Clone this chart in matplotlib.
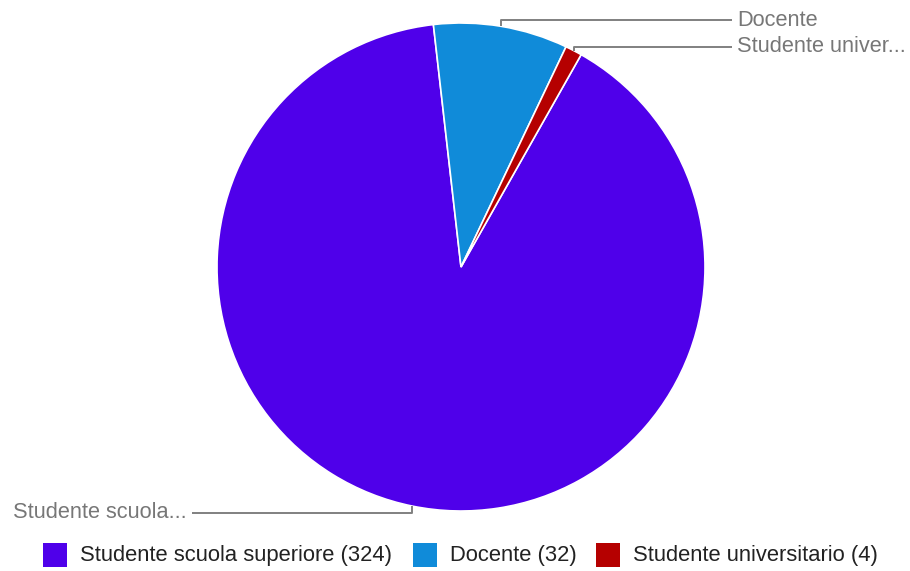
import numpy as np
import matplotlib
matplotlib.use("Agg")
import matplotlib.pyplot as plt
from matplotlib.patches import Rectangle

categories = ["Studente scuola superiore", "Docente", "Studente universitario"]
values = [324, 32, 4]
colors = ["#4f00ea", "#108bd9", "#b50000"]

W, H = 910, 571
fig = plt.figure(figsize=(W / 100, H / 100), dpi=100)
ax = fig.add_axes([0, 0, 1, 1])

cx, cy, R = 461, 267, 244
start_cw = 29.5  # clockwise degrees from 12 o'clock where first slice begins
wedges, _ = ax.pie(values, colors=colors, startangle=90 - start_cw, counterclock=False,
                   center=(cx, H - cy), radius=R,
                   wedgeprops=dict(edgecolor="white", linewidth=1.2))
ax.set_xlim(0, W)
ax.set_ylim(0, H)
ax.set_aspect("auto")
ax.axis("off")

def short(s, n=15):
    return s if len(s) <= n else s[:n] + "..."

# leader lines with labels
label_font = dict(family="Liberation Sans", fontsize=15.7, color="#777777")
line_kw = dict(color="#808080", lw=1.4, solid_capstyle="butt")
# label placements (pixel layout): (label_y, line_end_x, text_x, side)
placements = [(513, 192, 187, "left"), (20, 732, 737, "right"), (46.5, 732, 737, "right")]
total = sum(values)
acc = 0
for i, v in enumerate(values):
    mid = start_cw + (acc + v / 2) / total * 360
    acc += v
    a = np.deg2rad(mid)
    px, py = cx + R * np.sin(a), cy - R * np.cos(a)
    ly, ex, tx, side = placements[i]
    ax.plot([px, px, ex], [H - py, H - ly, H - ly], **line_kw)
    ha = "right" if side == "left" else "left"
    ax.text(tx, H - ly, short(categories[i]), ha=ha, va="center", **label_font)

# legend
leg_x = [43, 413, 596]
for i, (c, v) in enumerate(zip(categories, values)):
    ax.add_patch(Rectangle((leg_x[i], H - 567), 24, 24, facecolor=colors[i], edgecolor="none"))
    ax.text(leg_x[i] + 37, H - 555, f"{c} ({v})", ha="left", va="center",
            family="Liberation Sans", fontsize=15.8, color="#222222")

fig.savefig("out.png", dpi=100)
